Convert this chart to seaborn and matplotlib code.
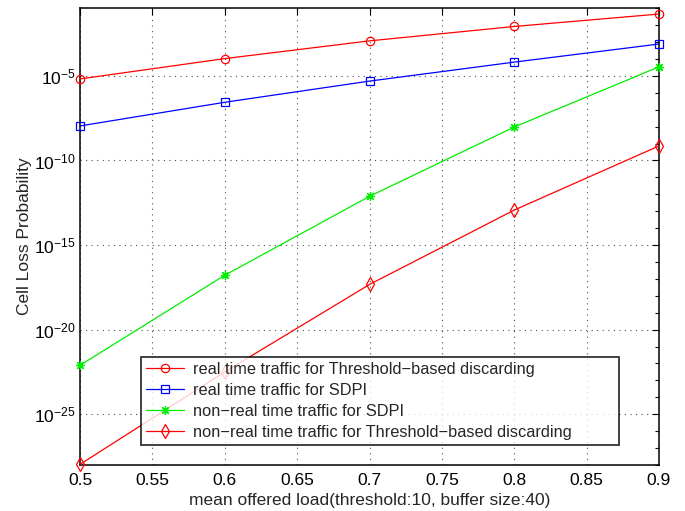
import numpy as np
import pandas as pd
import matplotlib
matplotlib.use("Agg")
import matplotlib.pyplot as plt
import seaborn as sns
from matplotlib.ticker import FixedLocator, NullFormatter

# mean offered load
load = [0.5, 0.6, 0.7, 0.8, 0.9]

# cell loss probabilities
rt_threshold = [6.6e-06, 1.05e-04, 1.17e-03, 8.3e-03, 4.5e-02]
rt_sdpi = [1.1e-08, 2.75e-07, 4.9e-06, 6.5e-05, 7.6e-04]
nrt_sdpi = [7.9e-23, 1.66e-17, 7.6e-13, 9.5e-09, 3.4e-05]
nrt_threshold = [1.1e-28, 3.2e-23, 4.7e-18, 1.17e-13, 7.2e-10]

series_names = [
    "real time traffic for Threshold\u2212based discarding",
    "real time traffic for SDPI",
    "non\u2212real time traffic for SDPI",
    "non\u2212real time traffic for Threshold\u2212based discarding",
]

x_ticks = [0.5, 0.55, 0.6, 0.65, 0.7, 0.75, 0.8, 0.85, 0.9]
x_tick_labels = ["0.5", "0.55", "0.6", "0.65", "0.7", "0.75", "0.8", "0.85", "0.9"]

sns.set_theme(style="white")
plt.rcParams["font.family"] = ["Liberation Sans", "DejaVu Sans"]
plt.rcParams["mathtext.fontset"] = "custom"
plt.rcParams["mathtext.rm"] = "Liberation Sans"
plt.rcParams["mathtext.it"] = "Liberation Sans"

df = pd.DataFrame({
    "load": load * 4,
    "prob": rt_threshold + rt_sdpi + nrt_sdpi + nrt_threshold,
    "series": sum([[n] * len(load) for n in series_names], []),
})

styles = [
    dict(color="#ff0000", marker="o", ms=6),
    dict(color="#0000ff", marker="s", ms=5.5),
    dict(color="#00ee00", marker=(8, 2, 0), ms=6.5),
    dict(color="#ff0000", marker="d", ms=7),
]

fig = plt.figure(figsize=(6.85, 5.11), dpi=100)
ax = fig.add_axes([0.117, 0.090, 0.845, 0.894])

for name, st in zip(series_names, styles):
    sub = df[df["series"] == name]
    sns.lineplot(
        data=sub, x="load", y="prob", ax=ax, label=name,
        color=st["color"], linewidth=0.9,
        marker=st["marker"], markersize=st["ms"],
        markerfacecolor="none", markeredgecolor=st["color"],
        markeredgewidth=0.9, clip_on=False, zorder=3,
    )

ax.set_yscale("log")
ax.set_xlim(0.5, 0.9)
ax.set_ylim(1e-28, 1e-1)

ax.xaxis.set_major_locator(FixedLocator(x_ticks))
ax.set_xticklabels(x_tick_labels)
ax.yaxis.set_major_locator(FixedLocator([1e-25, 1e-20, 1e-15, 1e-10, 1e-5]))
ax.yaxis.set_minor_locator(FixedLocator([10.0 ** k for k in range(-28, 0)]))
ax.yaxis.set_minor_formatter(NullFormatter())

ax.grid(True, which="major", linestyle=(0, (1, 4)), color="#505050", linewidth=0.8)
ax.tick_params(axis="both", which="both", direction="in", top=True, right=True,
               colors="black", labelsize=12.5)
ax.tick_params(which="major", length=5, width=0.8)
ax.tick_params(which="minor", length=3, width=0.8)
ax.tick_params(axis="x", pad=6)
ax.tick_params(axis="y", pad=3)
for s in ax.spines.values():
    s.set_color("black")
    s.set_linewidth(1.1)

ax.set_xlabel("mean offered load(threshold:10, buffer size:40)", fontsize=12.5, labelpad=3)
ax.set_ylabel("Cell Loss Probability", fontsize=12.5)
ax.yaxis.set_label_coords(-0.083, 0.5)

leg = ax.legend(loc="upper left", bbox_to_anchor=(0.105, 0.236, 0.826, 0.0),
                mode="expand", fontsize=11.8, frameon=True, fancybox=False,
                borderpad=0.3, labelspacing=0.36, handlelength=2.3,
                handletextpad=0.55, borderaxespad=0)
leg.get_frame().set_edgecolor("black")
leg.get_frame().set_linewidth(1.3)
leg.set_zorder(5)

fig.savefig("out.png", dpi=100)
